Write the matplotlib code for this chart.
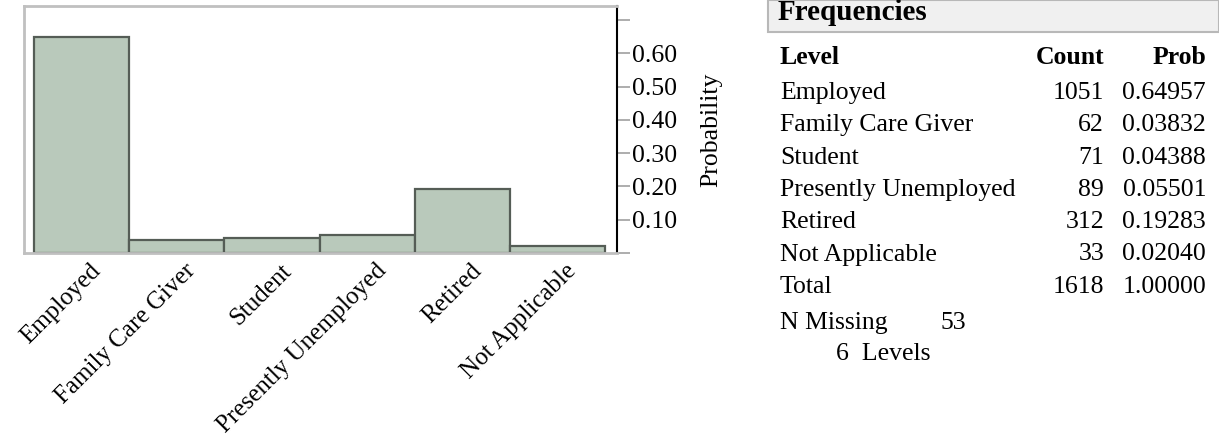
import matplotlib
matplotlib.use("Agg")
import matplotlib.pyplot as plt
import matplotlib.transforms as mtransforms
from matplotlib.patches import Rectangle

plt.rcParams['font.family'] = ['Liberation Serif', 'DejaVu Serif']

levels = ["Employed", "Family Care Giver", "Student", "Presently Unemployed",
          "Retired", "Not Applicable"]
counts = [1051, 62, 71, 89, 312, 33]
probs = [0.64957, 0.03832, 0.04388, 0.05501, 0.19283, 0.02040]
total_count = 1618
total_prob = 1.00000
n_missing = 53
y_ticks = [0.0, 0.10, 0.20, 0.30, 0.40, 0.50, 0.60, 0.70]
y_tick_labels = ["", "0.10", "0.20", "0.30", "0.40", "0.50", "0.60", ""]

W, H = 1219, 438
fig = plt.figure(figsize=(W / 100, H / 100), dpi=100)


def fx(px):
    return px / W


def fy(py):
    return 1 - py / H


# bar chart
ax = fig.add_axes([fx(24), fy(253), fx(617) - fx(24), fy(6) - fy(253)])
xs = list(range(len(levels)))
ax.bar(xs, probs, width=1.0, color="#b9c9bb", edgecolor="#555d56", linewidth=1.6)
ax.set_xlim(-0.605, 5.626)
ax.set_ylim(0, 0.742)

ax.set_xticks(xs)
ax.set_xticklabels(levels, rotation=45, ha="right", rotation_mode="anchor", fontsize=18)
ax.tick_params(axis="x", length=0, pad=5)
# JMP puts the end of each label a little right of the bar centre
shift = mtransforms.ScaledTranslation(8 / 100, 0, fig.dpi_scale_trans)
for lab in ax.get_xticklabels():
    lab.set_transform(lab.get_transform() + shift)

ax.yaxis.tick_right()
ax.set_yticks(y_ticks)
ax.set_yticklabels(y_tick_labels, fontsize=18.5)
ax.tick_params(axis="y", direction="out", length=9.5, width=1.2, color="#a0a0a0", pad=1)
ax.yaxis.set_label_position("right")
ax.set_ylabel("Probability", fontsize=18.5, labelpad=17)

for side in ["top", "left", "bottom"]:
    ax.spines[side].set_color("#c0c0c0")
    ax.spines[side].set_linewidth(2)
ax.spines["right"].set_color("black")
ax.spines["right"].set_linewidth(1.5)

# frequencies table
fig.patches.append(Rectangle((fx(768), fy(32)), 1 - fx(768), fy(0) - fy(32),
                             transform=fig.transFigure, facecolor="#f0f0f0",
                             edgecolor="#b8b8b8", linewidth=1.5))
fig.text(fx(778), fy(13), "Frequencies", fontsize=21, fontweight="bold", va="center")

fs = 18.5
x_level, x_count, x_prob = fx(780), fx(1104), fx(1206)
fig.text(x_level, fy(57), "Level", fontsize=fs, fontweight="bold", va="center")
fig.text(x_count, fy(57), "Count", fontsize=fs, fontweight="bold", va="center", ha="right")
fig.text(x_prob, fy(57), "Prob", fontsize=fs, fontweight="bold", va="center", ha="right")

row_y = 93
for name, c, p in zip(levels + ["Total"], counts + [total_count], probs + [total_prob]):
    fig.text(x_level, fy(row_y), name, fontsize=fs, va="center")
    fig.text(x_count, fy(row_y), str(c), fontsize=fs, va="center", ha="right")
    fig.text(x_prob, fy(row_y), f"{p:.5f}", fontsize=fs, va="center", ha="right")
    row_y += 32.3

fig.text(x_level, fy(323), "N Missing", fontsize=fs, va="center")
fig.text(fx(941), fy(323), str(n_missing), fontsize=fs, va="center")
fig.text(fx(836), fy(354), f"{len(levels)}  Levels", fontsize=fs, va="center")

fig.savefig("out.png", dpi=100)
